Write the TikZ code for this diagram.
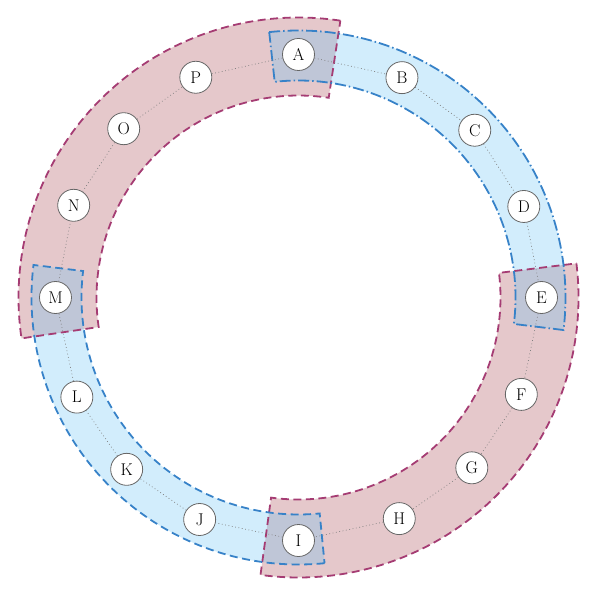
\documentclass[tikz,border=0pt]{standalone}
\definecolor{bandred}{RGB}{151,35,47}
\definecolor{bandblue}{RGB}{105,195,245}
\definecolor{redline}{RGB}{165,60,115}
\definecolor{blueline}{RGB}{55,130,200}
\def\bandpath#1#2#3#4{(#1:#4) arc[start angle=#1, end angle=#2, radius=#4] -- (#2:#3) arc[start angle=#2, end angle=#1, radius=#3] -- cycle}
\begin{document}
\begin{tikzpicture}[x=1pt,y=1pt,
  vtx/.style={circle, draw=black!60, line width=0.8pt, fill=white, minimum size=32pt, inner sep=0pt, font=\fontsize{17}{20}\selectfont},
  link/.style={draw=black!50, line width=0.7pt, dash pattern=on 0.8pt off 2.6pt},
  redfill/.style={fill=bandred, fill opacity=0.25},
  bluefill/.style={fill=bandblue, fill opacity=0.3},
  redborder/.style={draw=redline, line width=1.8pt, dash pattern=on 8pt off 4.5pt},
  blueborderdash/.style={draw=blueline, line width=1.8pt, dash pattern=on 8pt off 4.5pt},
  blueborderdd/.style={draw=blueline, line width=1.8pt, dash pattern=on 11pt off 3pt on 1.5pt off 3pt},
]
\useasboundingbox (-298.5,-304.5) rectangle (301.5,297.5);
% band fills
\path[redfill] \bandpath{81.4}{188.4}{202}{280};
\path[redfill] \bandpath{7}{-97.8}{202}{280};
\path[bluefill] \bandpath{96.3}{-7}{217}{267};
\path[bluefill] \bandpath{-84.4}{-187}{217}{267};
% band borders
\path[redborder] \bandpath{81.4}{188.4}{202}{280};
\path[redborder] \bandpath{7}{-97.8}{202}{280};
\path[blueborderdd] \bandpath{96.3}{-7}{217}{267};
\path[blueborderdash] \bandpath{-84.4}{-187}{217}{267};
% nodes
\node[vtx] (A) at (90:243) {A};
\node[vtx] (B) at (64.8:243) {B};
\node[vtx] (C) at (43.5:243) {C};
\node[vtx] (D) at (22:243) {D};
\node[vtx] (E) at (0:243) {E};
\node[vtx] (F) at (-23.5:243) {F};
\node[vtx] (G) at (-44.5:243) {G};
\node[vtx] (H) at (-65.5:243) {H};
\node[vtx] (I) at (-90:243) {I};
\node[vtx] (J) at (-114:243) {J};
\node[vtx] (K) at (-135:243) {K};
\node[vtx] (L) at (-155.8:243) {L};
\node[vtx] (M) at (180:243) {M};
\node[vtx] (N) at (157.7:243) {N};
\node[vtx] (O) at (136:243) {O};
\node[vtx] (P) at (115:243) {P};
% dotted ring connectors
\draw[link] (A) -- (B) -- (C) -- (D) -- (E) -- (F) -- (G) -- (H) -- (I) -- (J) -- (K) -- (L) -- (M) -- (N) -- (O) -- (P) -- (A);
\end{tikzpicture}
\end{document}
